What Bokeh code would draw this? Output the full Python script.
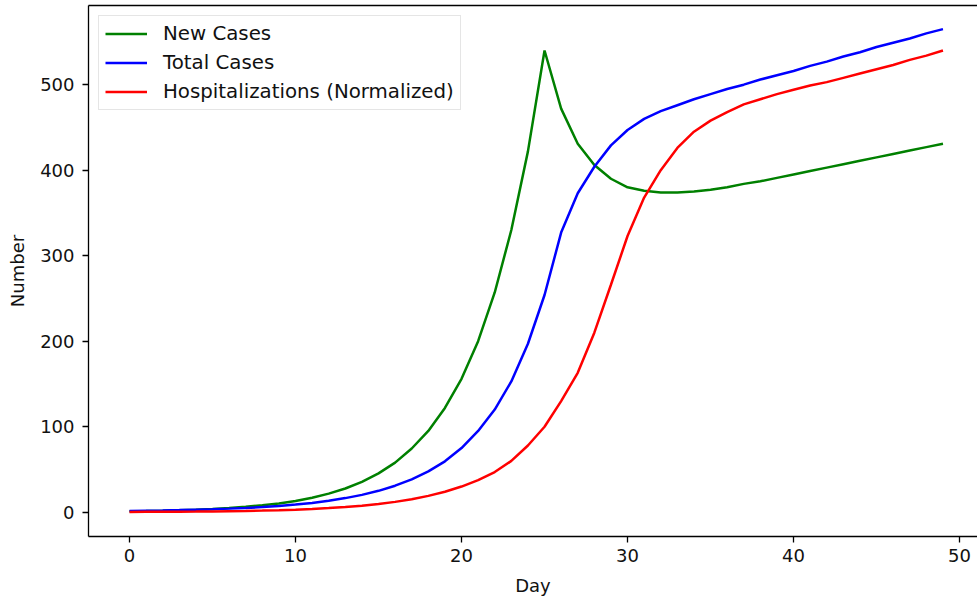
from bokeh.plotting import figure
from bokeh.models import Range1d, LinearAxis, FixedTicker, Legend, LegendItem, ColumnDataSource
from bokeh.embed import file_html
from bokeh.resources import INLINE

days = list(range(50))

new_cases = [1.1, 1.4, 1.8, 2.3, 3.0, 3.8, 4.9, 6.3, 8.1, 10.3,
             13.2, 16.9, 21.7, 27.7, 35.5, 45.4, 58, 74.5, 95, 122,
             156, 200, 257, 330, 422, 540, 472, 431, 406, 390,
             380, 376, 374, 374, 375, 377, 380, 384, 387, 391,
             395, 399, 403, 407, 411, 415, 419, 423, 427, 431]

total_cases = [1.5, 1.8, 2.1, 2.5, 3.0, 3.5, 4.2, 5.0, 6.0, 7.3,
               8.9, 10.9, 13.4, 16.5, 20.3, 25, 31, 38.5, 47.7, 59.5,
               75, 95, 120, 153, 197, 254, 327, 373, 404, 429,
               447, 460, 469, 476, 483, 489, 495, 500, 506, 511,
               516, 522, 527, 533, 538, 544, 549, 554, 560, 565]

hospitalizations = [0.3, 0.4, 0.5, 0.6, 0.75, 0.95, 1.2, 1.5, 1.9, 2.4,
                    3.0, 3.8, 4.8, 6.0, 7.6, 9.6, 12.1, 15.2, 19.1, 24,
                    30, 37.5, 47, 60, 78, 100, 130, 163, 210, 266,
                    323, 368, 400, 426, 445, 458, 468, 477, 483, 489,
                    494, 499, 503, 508, 513, 518, 523, 529, 534, 540]

series_labels = ["New Cases", "Total Cases", "Hospitalizations (Normalized)"]
series_colors = ["green", "blue", "red"]
x_ticks = [0, 10, 20, 30, 40, 50]
y_ticks = [0, 100, 200, 300, 400, 500]

source = ColumnDataSource(dict(day=days, new=new_cases, total=total_cases, hosp=hospitalizations))

FONT = "DejaVu Sans"

p = figure(width=977, height=599, output_backend="svg", toolbar_location=None,
           x_range=Range1d(-2.47, 51.08), y_range=Range1d(-28.4, 592.6),
           min_border_left=88, min_border_right=0, min_border_top=5, min_border_bottom=63,
           x_axis_label="Day", y_axis_label="Number")
p.outline_line_color = None
p.xgrid.grid_line_color = None
p.ygrid.grid_line_color = None
p.background_fill_color = "white"
p.border_fill_color = "white"

p.xaxis[0].ticker = FixedTicker(ticks=x_ticks)
p.yaxis[0].ticker = FixedTicker(ticks=y_ticks)
for ax in (p.xaxis[0], p.yaxis[0]):
    ax.major_tick_out = 6
    ax.major_tick_in = 0
    ax.minor_tick_out = 0
    ax.minor_tick_in = 0
    ax.major_tick_line_color = "black"
    ax.major_tick_line_width = 1.3
    ax.axis_line_color = "black"
    ax.axis_line_width = 1.3
    ax.major_label_text_font = FONT
    ax.major_label_text_font_size = "18px"
    ax.major_label_text_color = "#111111"
    ax.axis_label_text_font = FONT
    ax.axis_label_text_font_size = "18px"
    ax.axis_label_text_font_style = "normal"
    ax.axis_label_text_color = "#111111"
p.xaxis[0].major_label_standoff = 6
p.xaxis[0].axis_label_standoff = 10
p.yaxis[0].major_label_standoff = 8
p.yaxis[0].axis_label_standoff = 9

top_axis = LinearAxis(ticker=FixedTicker(ticks=[]), axis_line_color="black", axis_line_width=1.3,
                      major_tick_out=0, major_tick_in=0, minor_tick_out=0, minor_tick_in=0,
                      major_label_standoff=0)
p.add_layout(top_axis, "above")

r1 = p.line("day", "new", source=source, line_color=series_colors[0], line_width=2.5)
r2 = p.line("day", "total", source=source, line_color=series_colors[1], line_width=2.5)
r3 = p.line("day", "hosp", source=source, line_color=series_colors[2], line_width=2.5)

legend = Legend(items=[LegendItem(label=series_labels[0], renderers=[r1]),
                       LegendItem(label=series_labels[1], renderers=[r2]),
                       LegendItem(label=series_labels[2], renderers=[r3])],
                location="top_left")
legend.margin = 10
legend.padding = 6
legend.spacing = 6
legend.label_height = 23
legend.glyph_height = 23
legend.glyph_width = 42
legend.label_standoff = 16
legend.label_text_font = FONT
legend.label_text_font_size = "19.8px"
legend.label_text_color = "#111111"
legend.border_line_color = "#cccccc"
legend.border_line_width = 1
legend.background_fill_alpha = 0.8
p.add_layout(legend)

open("out.html", "w").write(file_html(p, INLINE))
